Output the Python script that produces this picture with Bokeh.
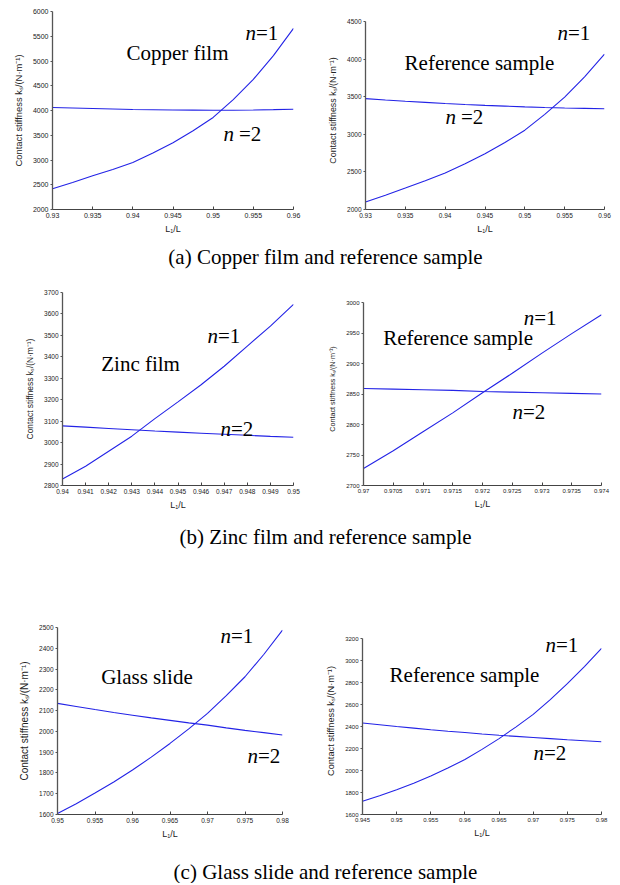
from bokeh.plotting import figure
from bokeh.layouts import column, row
from bokeh.models import Range1d, FixedTicker
from bokeh.core.properties import value
from bokeh.embed import file_html
from bokeh.resources import INLINE

# ---------------- data ----------------
# (a) Copper film
a1_x = [0.93, 0.9325, 0.935, 0.9375, 0.94, 0.9425, 0.945, 0.9475, 0.95, 0.9525, 0.955, 0.9575, 0.96]
a1_n1 = [2420, 2545, 2680, 2810, 2950, 3140, 3350, 3590, 3860, 4220, 4630, 5110, 5660]
a1_n2 = [4060, 4050, 4040, 4030, 4020, 4015, 4010, 4007, 4005, 4006, 4010, 4017, 4025]
a1_xticks = [0.93, 0.935, 0.94, 0.945, 0.95, 0.955, 0.96]
a1_xlabels = ["0.93", "0.935", "0.94", "0.945", "0.95", "0.955", "0.96"]
a1_yticks = [2000, 2500, 3000, 3500, 4000, 4500, 5000, 5500, 6000]

# (a) Reference sample
a2_x = [0.93, 0.9325, 0.935, 0.9375, 0.94, 0.9425, 0.945, 0.9475, 0.95, 0.9525, 0.955, 0.9575, 0.96]
a2_n1 = [2100, 2190, 2285, 2382, 2485, 2607, 2740, 2890, 3055, 3265, 3495, 3765, 4065]
a2_n2 = [3475, 3457, 3440, 3425, 3410, 3397, 3385, 3375, 3365, 3357, 3350, 3345, 3340]
a2_xticks = [0.93, 0.935, 0.94, 0.945, 0.95, 0.955, 0.96]
a2_xlabels = ["0.93", "0.935", "0.94", "0.945", "0.95", "0.955", "0.96"]
a2_yticks = [2000, 2500, 3000, 3500, 4000, 4500]

# (b) Zinc film
b1_x = [0.94, 0.941, 0.942, 0.943, 0.944, 0.945, 0.946, 0.947, 0.948, 0.949, 0.95]
b1_n1 = [2830, 2890, 2960, 3030, 3112, 3190, 3270, 3356, 3450, 3543, 3645]
b1_n2 = [3078, 3072, 3066, 3060, 3054, 3049, 3044, 3039, 3034, 3029, 3025]
b1_xticks = [0.94, 0.941, 0.942, 0.943, 0.944, 0.945, 0.946, 0.947, 0.948, 0.949, 0.95]
b1_xlabels = ["0.94", "0.941", "0.942", "0.943", "0.944", "0.945", "0.946",
              "0.947", "0.948", "0.949", "0.95"]
b1_yticks = [2800, 2900, 3000, 3100, 3200, 3300, 3400, 3500, 3600, 3700]

# (b) Reference sample
b2_x = [0.97, 0.9705, 0.971, 0.9715, 0.972, 0.9725, 0.973, 0.9735, 0.974]
b2_n1 = [2728, 2757, 2788, 2819, 2852, 2884, 2917, 2949, 2980]
b2_n2 = [2859, 2858, 2857, 2856, 2854, 2853, 2852, 2851, 2850]
b2_xticks = [0.97, 0.9705, 0.971, 0.9715, 0.972, 0.9725, 0.973, 0.9735, 0.974]
b2_xlabels = ["0.97", "0.9705", "0.971", "0.9715", "0.972", "0.9725", "0.973",
              "0.9735", "0.974"]
b2_yticks = [2700, 2750, 2800, 2850, 2900, 2950, 3000]

# (c) Glass slide
c1_x = [0.95, 0.9525, 0.955, 0.9575, 0.96, 0.9625, 0.965, 0.9675, 0.97, 0.9725, 0.975, 0.9775, 0.98]
c1_n1 = [1605, 1652, 1703, 1756, 1814, 1876, 1942, 2012, 2087, 2172, 2263, 2370, 2487]
c1_n2 = [2135, 2120, 2105, 2091, 2078, 2065, 2053, 2041, 2030, 2017, 2005, 1994, 1983]
c1_xticks = [0.95, 0.955, 0.96, 0.965, 0.97, 0.975, 0.98]
c1_xlabels = ["0.95", "0.955", "0.96", "0.965", "0.97", "0.975", "0.98"]
c1_yticks = [1600, 1700, 1800, 1900, 2000, 2100, 2200, 2300, 2400, 2500]

# (c) Reference sample
c2_x = [0.945, 0.9475, 0.95, 0.9525, 0.955, 0.9575, 0.96, 0.9625, 0.965, 0.9675,
        0.97, 0.9725, 0.975, 0.9775, 0.98]
c2_n1 = [1720, 1770, 1825, 1885, 1950, 2022, 2100, 2192, 2290, 2397, 2510, 2645,
         2790, 2945, 3110]
c2_n2 = [2432, 2416, 2400, 2385, 2370, 2357, 2345, 2332, 2320, 2310, 2300, 2290,
         2280, 2271, 2262]
c2_xticks = [0.945, 0.95, 0.955, 0.96, 0.965, 0.97, 0.975, 0.98]
c2_xlabels = ["0.945", "0.95", "0.955", "0.96", "0.965", "0.97", "0.975", "0.98"]
c2_yticks = [1600, 1800, 2000, 2200, 2400, 2600, 2800, 3000, 3200]

captions = ["(a) Copper film and reference sample",
            "(b) Zinc film and reference sample",
            "(c) Glass slide and reference sample"]

Y_LABEL = "Contact stiffness kₛ/(N·m⁻¹)"
X_LABEL = "L₁/L"
LINE_COLOR = "#2323e6"
SERIF = "Liberation Serif"
SANS = "Liberation Sans"


def panel(xs, n1, n2, xticks, xlabels, yticks, width, height, borders, pad_top,
          ylab_size, tick_size, name, name_xy, n1_xy, n2_xy, n2_gap=0):
    bl, bt, br, bb = borders
    frame_h = height - bt - bb
    y0, y1 = yticks[0], yticks[-1]
    y_end = y1 + (y1 - y0) * pad_top / (frame_h - pad_top)
    p = figure(width=width, height=height, title=None,
               x_range=Range1d(xticks[0], xticks[-1]),
               y_range=Range1d(y0, y_end),
               min_border_left=bl, min_border_top=bt,
               min_border_right=br, min_border_bottom=bb,
               output_backend="svg", toolbar_location=None)
    p.outline_line_color = None
    p.xgrid.visible = False
    p.ygrid.visible = False
    p.background_fill_color = "white"
    p.border_fill_color = "white"

    p.line(xs, n1, line_color=LINE_COLOR, line_width=1.1)
    p.line(xs, n2, line_color=LINE_COLOR, line_width=1.1)

    xa = p.xaxis[0]
    xa.ticker = FixedTicker(ticks=xticks, minor_ticks=[])
    xa.major_label_overrides = {t: s for t, s in zip(xticks, xlabels)}
    xa.major_tick_in = 3
    xa.major_tick_out = 0
    xa.minor_tick_line_color = None
    xa.major_label_standoff = 3
    xa.major_label_text_font = SANS
    xa.major_label_text_font_size = tick_size
    xa.major_label_text_color = "#222222"
    xa.axis_line_color = "#444444"
    xa.major_tick_line_color = "#444444"
    xa.axis_label = X_LABEL
    xa.axis_label_text_font = SANS
    xa.axis_label_text_font_style = "normal"
    xa.axis_label_text_font_size = "9px"
    xa.axis_label_text_color = "#222222"
    xa.axis_label_standoff = 3

    ya = p.yaxis[0]
    ya.ticker = FixedTicker(ticks=yticks, minor_ticks=[])
    ya.bounds = (y0, y1)
    ya.major_tick_in = 0
    ya.major_tick_out = 2
    ya.minor_tick_line_color = None
    ya.major_label_standoff = 2
    ya.major_label_text_font = SANS
    ya.major_label_text_font_size = tick_size
    ya.major_label_text_color = "#222222"
    ya.axis_line_color = "#555555"
    ya.axis_line_width = 1.3
    ya.major_tick_line_color = "#555555"
    ya.axis_label = Y_LABEL
    ya.axis_label_text_font = SANS
    ya.axis_label_text_font_style = "normal"
    ya.axis_label_text_font_size = ylab_size
    ya.axis_label_text_color = "#222222"
    ya.axis_label_standoff = 6

    p.text(x=[name_xy[0]], y=[name_xy[1]], text=[name],
           text_font=value(SERIF), text_font_size="21px",
           text_align="center", text_baseline="middle", text_color="black")
    for (xy, digit, gap) in ((n1_xy, "=1", 0), (n2_xy, "=2", n2_gap)):
        p.text(x=[xy[0]], y=[xy[1]], text=["n"],
               text_font=value(SERIF), text_font_size="21px",
               text_font_style="italic",
               text_align="right", text_baseline="middle", text_color="black")
        p.text(x=[xy[0]], y=[xy[1]], text=[digit], x_offset=gap,
               text_font=value(SERIF), text_font_size="21px",
               text_align="left", text_baseline="middle", text_color="black")
    return p


def caption(txt, h, ymid):
    c = figure(width=612, height=h, title=None,
               x_range=Range1d(0, 612), y_range=Range1d(0, h),
               x_axis_type=None, y_axis_type=None, min_border=0,
               output_backend="svg", toolbar_location=None)
    c.outline_line_color = None
    c.xgrid.visible = False
    c.ygrid.visible = False
    c.text(x=[325], y=[ymid], text=[txt], text_font=value(SERIF),
           text_font_size="21px", text_align="center", text_baseline="middle",
           text_color="black")
    return c


# row A: height 240, frame top border 11, bottom border 31
pa1 = panel(a1_x, a1_n1, a1_n2, a1_xticks, a1_xlabels, a1_yticks,
            313, 240, (52, 11, 20, 31), 0, "9.4px", "7px",
            "Copper film", (0.94556, 5167), (0.95533, 5574), (0.95259, 3523), 5)
pa2 = panel(a2_x, a2_n1, a2_n2, a2_xticks, a2_xlabels, a2_yticks,
            299, 240, (52, 11, 8, 31), 10, "8.9px", "6.5px",
            "Reference sample", (0.94431, 3944), (0.95542, 4341), (0.94136, 3230), 5)
# row B: height 246, top 20, bottom 33
pb1 = panel(b1_x, b1_n1, b1_n2, b1_xticks, b1_xlabels, b1_yticks,
            313, 246, (62, 20, 20, 33), 0, "8.4px", "6.5px",
            "Zinc film", (0.94338, 3365), (0.94673, 3497), (0.94729, 3064))
pb2 = panel(b2_x, b2_n1, b2_n2, b2_xticks, b2_xlabels, b2_yticks,
            299, 246, (50, 20, 11, 33), 10, "7.2px", "6px",
            "Reference sample", (0.97159, 2942), (0.97287, 2975), (0.97268, 2820))
# row C: height 291, top 75, bottom 29
pc1 = panel(c1_x, c1_n1, c1_n2, c1_xticks, c1_xlabels, c1_yticks,
            313, 291, (57, 75, 31, 29), 0, "10px", "6.5px",
            "Glass slide", (0.96193, 2263), (0.97313, 2461), (0.97673, 1881))
pc2 = panel(c2_x, c2_n1, c2_n2, c2_xticks, c2_xlabels, c2_yticks,
            299, 291, (49, 75, 11, 29), 11, "9.2px", "6px",
            "Reference sample", (0.95994, 2866), (0.97334, 3137), (0.97158, 2160))

layout = column(
    row(pa1, pa2, spacing=0),
    caption(captions[0], 32, 16),
    row(pb1, pb2, spacing=0),
    caption(captions[1], 34, 16),
    row(pc1, pc2, spacing=0),
    caption(captions[2], 40, 12),
    spacing=0,
)

open("out.html", "w").write(file_html(layout, INLINE))
